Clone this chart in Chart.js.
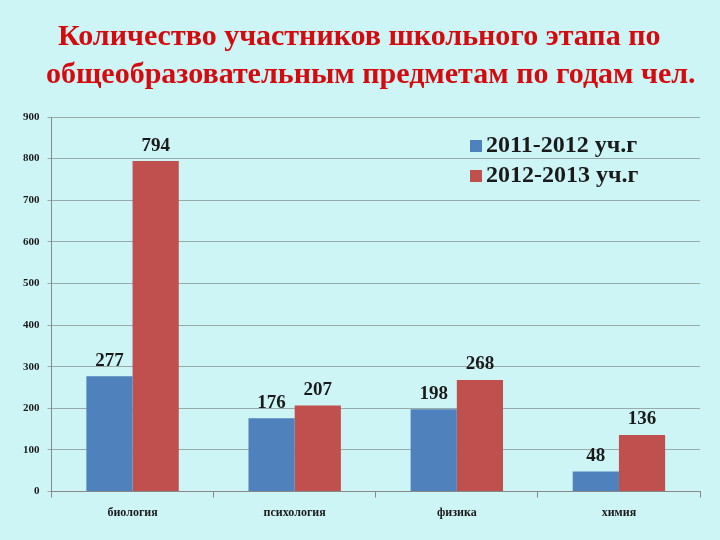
<!DOCTYPE html>
<html><head><meta charset="utf-8">
<script src="https://cdn.jsdelivr.net/npm/chart.js@4"></script>
<style>
html,body{margin:0;padding:0;background:#cef5f5;}
#wrap{position:relative;width:720px;height:540px;}
#t{position:absolute;left:0;top:16px;width:720px;font:bold 30px "Liberation Serif",serif;color:#d40a0f;line-height:38px;z-index:2;}
#t div{white-space:nowrap;}
canvas{position:absolute;left:0;top:0;}
</style></head><body>
<div id="wrap">
<div id="t"><div style="padding-left:58px">Количество участников школьного этапа по</div><div style="padding-left:46px">общеобразовательным предметам по годам чел.</div></div>
<canvas id="c" width="720" height="540"></canvas>
</div>
<script>
const categories=["биология","психология","физика","химия"];
const seriesNames=["2011-2012 уч.г","2012-2013 уч.г"];
const values2011=[277,176,198,48];
const values2013=[794,207,268,136];
const colors=["#4f81bd","#c0504d"];
const labelPlugin={id:'lbl',afterDatasetsDraw(ch){
 const ctx=ch.ctx;ctx.save();
 ctx.font='bold 19px "Liberation Serif",serif';ctx.fillStyle='#1a1a1a';ctx.textAlign='center';ctx.textBaseline='bottom';
 ch.data.datasets.forEach((ds,i)=>{ch.getDatasetMeta(i).data.forEach((b,j)=>{ctx.fillText(ds.data[j],b.x,b.y-6);});});
 let x=470,y=146;
 ctx.textAlign='left';ctx.textBaseline='middle';ctx.font='bold 24px "Liberation Serif",serif';
 ch.data.datasets.forEach((ds,i)=>{ctx.fillStyle=ds.backgroundColor;ctx.fillRect(x,y+i*30-6,12,12);ctx.fillStyle='#1a1a1a';ctx.fillText(ds.label,x+16,y+i*30);});
 ctx.restore();}};
new Chart(document.getElementById('c'),{type:'bar',
 data:{labels:categories,datasets:[
  {label:seriesNames[0],data:values2011,backgroundColor:colors[0]},
  {label:seriesNames[1],data:values2013,backgroundColor:colors[1]}]},
 options:{responsive:false,animation:false,devicePixelRatio:1,
  layout:{padding:{top:117,right:20,left:15,bottom:12}},
  plugins:{legend:{display:false},tooltip:{enabled:false}},
  datasets:{bar:{categoryPercentage:0.57,barPercentage:1}},
  scales:{
   x:{grid:{display:true,drawOnChartArea:false,color:'#888',tickLength:6,offset:true},border:{color:'#888'},
      ticks:{color:'#1a1a1a',font:{family:'Liberation Serif',size:12,weight:'bold'},padding:8}},
   y:{min:0,max:900,ticks:{stepSize:100,color:'#1a1a1a',font:{family:'Liberation Serif',size:11,weight:'bold'},padding:8},
      grid:{color:'#9aa',tickLength:4},border:{color:'#888'}}}},
 plugins:[labelPlugin]});
</script></body></html>
